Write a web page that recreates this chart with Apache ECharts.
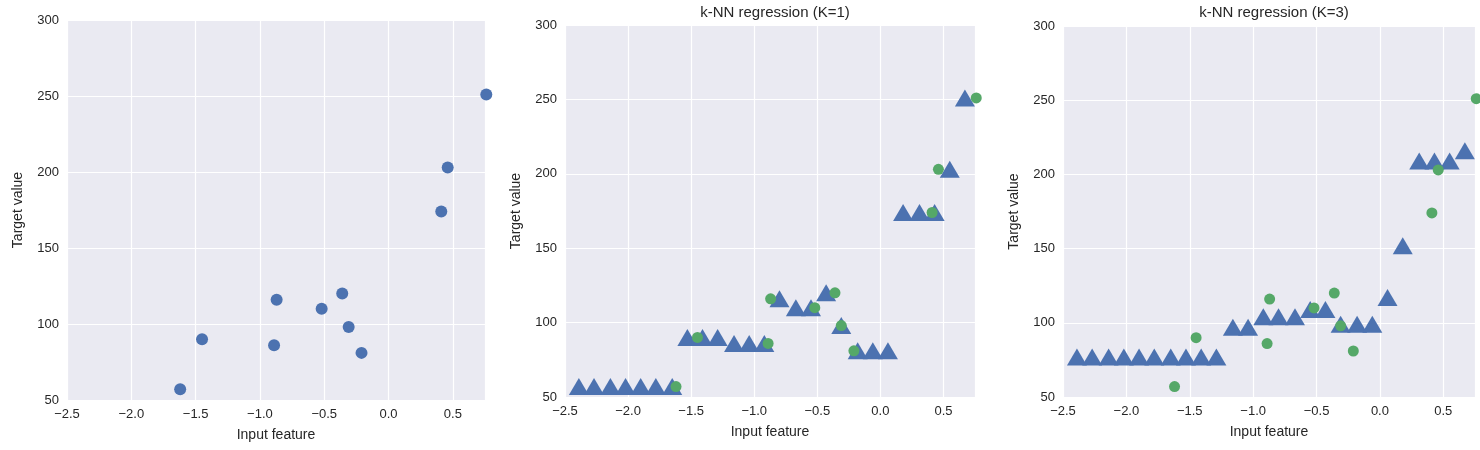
<!DOCTYPE html>
<html>
<head>
<meta charset="UTF-8">
<script src="https://cdn.jsdelivr.net/npm/echarts@6/dist/echarts.min.js"></script>
<style>body{margin:0;background:#fff}</style>
</head>
<body>
<div id="main" style="width:1480px;height:450px;"></div>
<script>
var dataX = [-1.62, -1.45, -0.89, -0.87, -0.52, -0.36, -0.31, -0.21, 0.41, 0.46, 0.76];
var dataY = [57, 90, 86, 116, 110, 120, 98, 81, 174, 203, 251];
var queryX = [-2.51, -2.39, -2.27, -2.14, -2.02, -1.90, -1.78, -1.65, -1.53, -1.41, -1.29, -1.16, -1.04, -0.92,
  -0.80, -0.67, -0.55, -0.43, -0.31, -0.18, -0.06, 0.06, 0.18, 0.31, 0.43, 0.55, 0.67, 0.80];
var predK1 = [57, 57, 57, 57, 57, 57, 57, 57, 90, 90, 90, 86, 86, 86,
  116, 110, 110, 120, 98, 81, 81, 81, 174, 174, 174, 203, 251, 251];
var predK3 = [77, 77, 77, 77, 77, 77, 77, 77, 77, 77, 77, 97, 97, 104,
  104, 104, 109, 109, 99, 99, 99, 117, 152, 209, 209, 209, 216, 221];
var titles = ['', 'k-NN regression (K=1)', 'k-NN regression (K=3)'];

var grids = [
  {left: 67, width: 418, top: 20, height: 380},
  {left: 565, width: 410, top: 25, height: 372},
  {left: 1063, width: 412, top: 26, height: 371}
];
var blue = '#4c72b0', green = '#55a868';
var font = 'Liberation Sans, Arial, sans-serif';

function pairs(xs, ys) {
  return xs.map(function (x, i) { return [x, ys[i]]; });
}

var option = {
  animation: false,
  title: [],
  grid: grids.map(function (g) {
    return Object.assign({backgroundColor: '#eaeaf2', show: true, borderWidth: 0}, g);
  }),
  xAxis: [], yAxis: [], series: []
};

grids.forEach(function (g, i) {
  if (titles[i]) {
    option.title.push({text: titles[i], left: g.left + g.width / 2, top: 0, textAlign: 'center',
      textStyle: {fontFamily: font, fontSize: 15, fontWeight: 'normal', color: '#262626'}});
  }
  option.xAxis.push({gridIndex: i, type: 'value', min: -2.5, max: 0.75, interval: 0.5,
    name: 'Input feature', nameLocation: 'middle', nameGap: 28,
    nameTextStyle: {fontFamily: font, fontSize: 14, color: '#262626'},
    axisLine: {show: false}, axisTick: {show: false},
    axisLabel: {fontFamily: font, fontSize: 13, color: '#262626', showMaxLabel: false,
      formatter: function (v) { return v.toFixed(1).replace('-', '\u2212'); }},
    splitLine: {lineStyle: {color: '#fff', width: 1.2}}});
  option.yAxis.push({gridIndex: i, type: 'value', min: 50, max: 300, interval: 50,
    name: 'Target value', nameLocation: 'middle', nameGap: 42,
    nameTextStyle: {fontFamily: font, fontSize: 14, color: '#262626'},
    axisLine: {show: false}, axisTick: {show: false},
    axisLabel: {fontFamily: font, fontSize: 13, color: '#262626'},
    splitLine: {lineStyle: {color: '#fff', width: 1.2}}});
});

option.series.push({type: 'scatter', xAxisIndex: 0, yAxisIndex: 0, clip: false,
  data: pairs(dataX, dataY), symbolSize: 12, itemStyle: {color: blue, opacity: 1}});

[predK1, predK3].forEach(function (pred, j) {
  var idx = j + 1;
  option.series.push({type: 'scatter', xAxisIndex: idx, yAxisIndex: idx, clip: true,
    data: pairs(queryX, pred), symbol: 'triangle', symbolSize: [20, 17], itemStyle: {color: blue, opacity: 1}});
  option.series.push({type: 'scatter', xAxisIndex: idx, yAxisIndex: idx, clip: false,
    data: pairs(dataX, dataY), symbolSize: 11, itemStyle: {color: green, opacity: 1}, z: 3});
});

var chart = echarts.init(document.getElementById('main'));
chart.setOption(option);
</script>
</body>
</html>
